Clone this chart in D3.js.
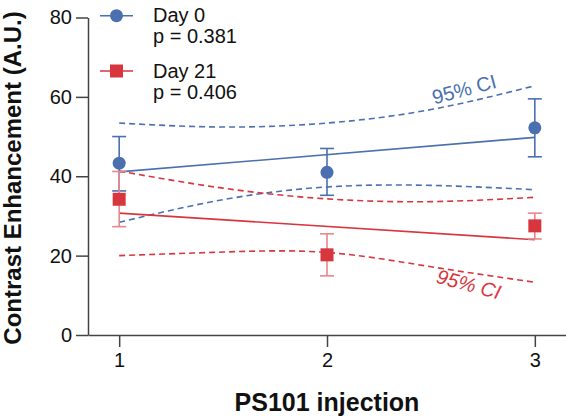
<!DOCTYPE html>
<html><head><meta charset="utf-8">
<script src="https://cdn.jsdelivr.net/npm/d3@7"></script>
<style>
body{margin:0;background:#fff;}
svg{display:block;font-family:"Liberation Sans",Arial,Helvetica,sans-serif;}
</style></head>
<body><svg id="chart" width="566" height="416"></svg>
<script>
// ---- data ----
const injections = [1, 2, 3];
const yTicks = [0, 20, 40, 60, 80];
const seriesNames = ["Day 0", "Day 21"];
const pValues = ["p = 0.381", "p = 0.406"];
const day0Mean = [43.3, 41.0, 52.2];
const day0Low  = [36.3, 35.2, 44.9];
const day0High = [50.0, 47.0, 59.5];
const day21Mean = [34.2, 20.2, 27.5];
const day21Low  = [27.3, 14.9, 24.2];
const day21High = [41.2, 25.5, 30.7];
// fitted regression lines (values at x = 1 and x = 3)
const fitX = [1, 3];
const day0Fit = [41.1, 49.8];
const day21Fit = [30.7, 24.0];
// 95% confidence bands
const ciX = [1, 1.5, 2, 2.5, 3];
const day0CiUpper = [53.4, 52.4, 53.4, 56.8, 62.8];
const day0CiLower = [28.4, 34.1, 37.3, 37.7, 36.6];
const day21CiUpper = [41.3, 37.0, 34.3, 33.6, 34.7];
const day21CiLower = [20.0, 20.9, 20.8, 17.2, 13.3];

const BLUE = "#4a70b0", RED = "#d8363e", RED_ERR = "#e8868b", AXIS = "#444";

const svg = d3.select("#chart");
const x = d3.scaleLinear().domain([0.85, 3.15]).range([88, 566]);
const y = d3.scaleLinear().domain([0, 80]).range([335, 17.5]);

// axes
const yAxis = svg.append("g").attr("transform", "translate(88,0)")
  .call(d3.axisLeft(y).tickValues(yTicks).tickSize(12).tickSizeOuter(0).tickPadding(4));
const xAxis = svg.append("g").attr("transform", "translate(0,335)")
  .call(d3.axisBottom(x).tickValues(injections).tickFormat(d3.format("d")).tickSize(12).tickSizeOuter(0).tickPadding(6));
[yAxis, xAxis].forEach(g => {
  g.selectAll("path, line").attr("stroke", AXIS).attr("stroke-width", 1.5);
  g.selectAll("text").attr("fill", "#111").style("font-size", "20px")
    .style("font-family", "'Liberation Sans',Arial,sans-serif");
});

// axis titles
svg.append("text").attr("transform", "translate(21,178) rotate(-90)")
  .attr("text-anchor", "middle").style("font-size", "24px").style("font-weight", "bold")
  .attr("fill", "#111").text("Contrast Enhancement (A.U.)");
svg.append("text").attr("x", x(2)).attr("y", 410.5)
  .attr("text-anchor", "middle").style("font-size", "25px").style("font-weight", "bold")
  .attr("fill", "#111").text("PS101 injection");

const series = [
  {mean: day0Mean, lo: day0Low, hi: day0High, fit: day0Fit, up: day0CiUpper, dn: day0CiLower, c: BLUE, ec: BLUE, shape: "circle"},
  {mean: day21Mean, lo: day21Low, hi: day21High, fit: day21Fit, up: day21CiUpper, dn: day21CiLower, c: RED, ec: RED_ERR, shape: "square"}
];

const ciLine = d3.line().x(d => x(d[0])).y(d => y(d[1])).curve(d3.curveNatural);
const fitLine = d3.line().x(d => x(d[0])).y(d => y(d[1]));

series.forEach(s => {
  [s.up, s.dn].forEach(arr => {
    svg.append("path").datum(ciX.map((v, i) => [v, arr[i]])).attr("d", ciLine)
      .attr("fill", "none").attr("stroke", s.c).attr("stroke-width", 1.6).attr("stroke-dasharray", "6,4");
  });
  svg.append("path").datum(fitX.map((v, i) => [v, s.fit[i]])).attr("d", fitLine)
    .attr("fill", "none").attr("stroke", s.c).attr("stroke-width", 1.6);
});

series.forEach(s => {
  const g = svg.append("g");
  injections.forEach((v, i) => {
    const cx = x(v);
    g.append("line").attr("x1", cx).attr("x2", cx).attr("y1", y(s.lo[i])).attr("y2", y(s.hi[i]))
      .attr("stroke", s.ec).attr("stroke-width", 1.6);
    [s.lo[i], s.hi[i]].forEach(e => g.append("line").attr("x1", cx - 7).attr("x2", cx + 7)
      .attr("y1", y(e)).attr("y2", y(e)).attr("stroke", s.ec).attr("stroke-width", 1.6));
    if (s.shape === "circle") {
      g.append("circle").attr("cx", cx).attr("cy", y(s.mean[i])).attr("r", 6.5).attr("fill", s.c);
    } else {
      g.append("rect").attr("x", cx - 6.5).attr("y", y(s.mean[i]) - 6.5).attr("width", 13).attr("height", 13).attr("fill", s.c);
    }
  });
});

// CI labels
svg.append("text").attr("transform", "translate(466,96) rotate(-15)").attr("text-anchor", "middle")
  .style("font-size", "20px").attr("fill", BLUE).text("95% CI");
svg.append("text").attr("transform", "translate(467,291) rotate(15)").attr("text-anchor", "middle")
  .style("font-size", "20px").style("font-style", "italic").attr("fill", RED).text("95% CI");

// legend
const legY = [15.7, 71];
series.forEach((s, i) => {
  const g = svg.append("g");
  g.append("line").attr("x1", 100).attr("x2", 133).attr("y1", legY[i]).attr("y2", legY[i])
    .attr("stroke", s.c).attr("stroke-width", 1.6);
  if (s.shape === "circle") g.append("circle").attr("cx", 116.5).attr("cy", legY[i]).attr("r", 6.5).attr("fill", s.c);
  else g.append("rect").attr("x", 110).attr("y", legY[i] - 6.5).attr("width", 13).attr("height", 13).attr("fill", s.c);
  g.append("text").attr("x", 153).attr("y", legY[i] + 6.5).style("font-size", "20px").attr("fill", "#111").text(seriesNames[i]);
  g.append("text").attr("x", 153).attr("y", legY[i] + 27.5).style("font-size", "20px").attr("fill", "#111").text(pValues[i]);
});
</script></body></html>
